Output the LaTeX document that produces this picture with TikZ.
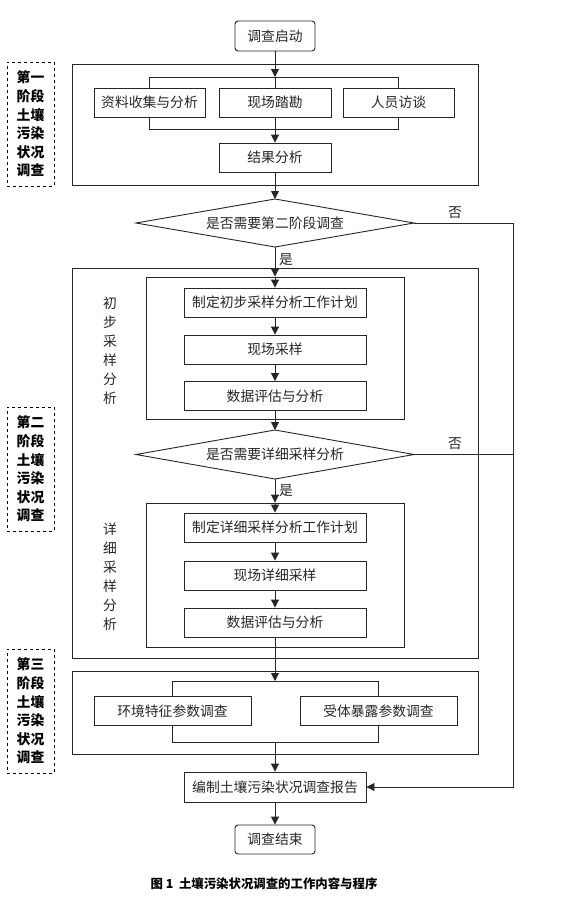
\documentclass[tikz,border=0pt]{standalone}
\usepackage{fontspec}
\setmainfont{Liberation Serif}
\newfontfamily\cjk{Noto Sans CJK SC}
\usetikzlibrary{arrows.meta}
\tikzset{
  txt/.style={font=\cjk\fontsize{13.8}{16}\selectfont, text=black!85},
  box/.style={txt, draw=black!85, line width=0.9pt, minimum height=29, inner sep=0},
  rbox/.style={box, rounded corners=3},
  frame/.style={draw=black!85, line width=0.9pt, inner sep=0},
  lab/.style={draw=black, dashed, line width=0.9pt, inner sep=0, minimum width=47,
    font=\cjk\bfseries\fontsize{13.8}{18.6}\selectfont, align=center},
  side/.style={txt, align=center, font=\cjk\fontsize{13.8}{19}\selectfont},
  ln/.style={draw=black!85, line width=0.9pt},
  arr/.style={ln, -{Triangle[length=8pt,width=8pt]}},
  yn/.style={txt, inner sep=0}
}
\begin{document}
\begin{tikzpicture}[x=1pt,y=-1pt]
\useasboundingbox (0,0) rectangle (588,911);
% outer frames
\node[frame, minimum width=406, minimum height=121] (p1) at (275,124.5) {};
\node[frame, minimum width=406, minimum height=390] (p2) at (275,463) {};
\node[frame, minimum width=406, minimum height=83] (p3) at (275,712.5) {};
\node[frame, minimum width=258, minimum height=142] (i1) at (275,348) {};
\node[frame, minimum width=258, minimum height=144] (i2) at (275,575) {};
% dashed labels
\node[lab, minimum height=124] (l1) at (30.5,124) {第一\\阶段\\土壤\\污染\\状况\\调查};
\node[lab, minimum height=124] (l2) at (30.5,469) {第二\\阶段\\土壤\\污染\\状况\\调查};
\node[lab, minimum height=124] (l3) at (30.5,711) {第三\\阶段\\土壤\\污染\\状况\\调查};
% boxes
\node[rbox, minimum width=80, minimum height=30] (s) at (275,36) {调查启动};
\node[box, minimum width=111] (a1) at (149.5,102.5) {资料收集与分析};
\node[box, minimum width=112] (a2) at (275,102.5) {现场踏勘};
\node[box, minimum width=111] (a3) at (398.5,102.5) {人员访谈};
\node[box, minimum width=112] (r1) at (275,157.5) {结果分析};
% diamond 1
\node[txt, inner sep=0] (d1) at (275,223) {是否需要第二阶段调查};
\coordinate (d1n) at (275,199);
\coordinate (d1s) at (275,247);
\coordinate (d1w) at (136,223);
\coordinate (d1e) at (414,223);
\draw[ln] (d1w) -- (d1n) -- (d1e) -- (d1s) -- cycle;
\node[box, minimum width=182] (b1) at (275,302.5) {制定初步采样分析工作计划};
\node[box, minimum width=182] (b2) at (275,349.5) {现场采样};
\node[box, minimum width=182] (b3) at (275,396) {数据评估与分析};
\node[side] (sl1) at (110,350.5) {初\\步\\采\\样\\分\\析};
% diamond 2
\node[txt, inner sep=0] (d2) at (275,454.5) {是否需要详细采样分析};
\coordinate (d2n) at (275,430);
\coordinate (d2s) at (275,479);
\coordinate (d2w) at (136,454.5);
\coordinate (d2e) at (414,454.5);
\draw[ln] (d2w) -- (d2n) -- (d2e) -- (d2s) -- cycle;
\node[box, minimum width=182] (c1) at (275,527.5) {制定详细采样分析工作计划};
\node[box, minimum width=182] (c2) at (275,575.5) {现场详细采样};
\node[box, minimum width=182] (c3) at (275,622.5) {数据评估与分析};
\node[side] (sl2) at (110,577) {详\\细\\采\\样\\分\\析};
\node[box, minimum width=157] (e1) at (172.5,711) {环境特征参数调查};
\node[box, minimum width=157] (e2) at (378.5,711) {受体暴露参数调查};
\node[box, minimum width=182, minimum height=30] (rep) at (275,787) {编制土壤污染状况调查报告};
\node[rbox, minimum width=80] (end) at (275,839.5) {调查结束};
\node[font=\cjk\bfseries\fontsize{12.4}{14}\selectfont, inner sep=0] (cap) at (264,884) {图 1\ \ 土壤污染状况调查的工作内容与程序};
% labels
\node[yn] (n1) at (455,213) {否};
\node[yn] (y1) at (286,260) {是};
\node[yn] (n2) at (455,444) {否};
\node[yn] (y2) at (286,491) {是};
% phase 1 brackets
\coordinate (t1) at (275,77);
\coordinate (t1l) at (a1.north |- t1);
\coordinate (t1r) at (a3.north |- t1);
\coordinate (u1) at (275,129);
\coordinate (u1l) at (a1.south |- u1);
\coordinate (u1r) at (a3.south |- u1);
\draw[arr] (s) -- (t1);
\draw[ln] (a1.north) -- (t1l) -- (t1r) -- (a3.north);
\draw[ln] (t1) -- (a2.north);
\draw[ln] (a1.south) -- (u1l) -- (u1r) -- (a3.south);
\draw[ln] (a2.south) -- (u1);
\draw[arr] (u1) -- (r1);
\draw[arr] (r1) -- (d1n);
% phase 2
\draw[ln] (d1s) -- (p2.north);
\draw[arr] (p2.north) -- (i1.north);
\draw[arr] (i1.north) -- (b1);
\draw[arr] (b1) -- (b2);
\draw[arr] (b2) -- (b3);
\draw[ln] (b3) -- (i1.south);
\draw[arr] (i1.south) -- (d2n);
\draw[arr] (d2s) -- (i2.north);
\draw[arr] (i2.north) -- (c1);
\draw[arr] (c1) -- (c2);
\draw[arr] (c2) -- (c3);
% phase 3 brackets
\coordinate (t3) at (275,681);
\coordinate (t3l) at (e1.north |- t3);
\coordinate (t3r) at (e2.north |- t3);
\coordinate (u3) at (275,742);
\coordinate (u3l) at (e1.south |- u3);
\coordinate (u3r) at (e2.south |- u3);
\draw[arr] (c3) -- (t3);
\draw[ln] (e1.north) -- (t3l) -- (t3r) -- (e2.north);
\draw[ln] (e1.south) -- (u3l) -- (u3r) -- (e2.south);
\draw[arr] (u3) -- (rep);
\draw[arr] (rep) -- (end);
% no branches
\coordinate (k1) at (513,223);
\coordinate (k2) at (513,454.5);
\coordinate (k3) at (513,787);
\draw[arr] (d1e) -- (k1) -- (k3) -- (rep.east);
\draw[ln] (d2e) -- (k2);
\end{tikzpicture}
\end{document}
